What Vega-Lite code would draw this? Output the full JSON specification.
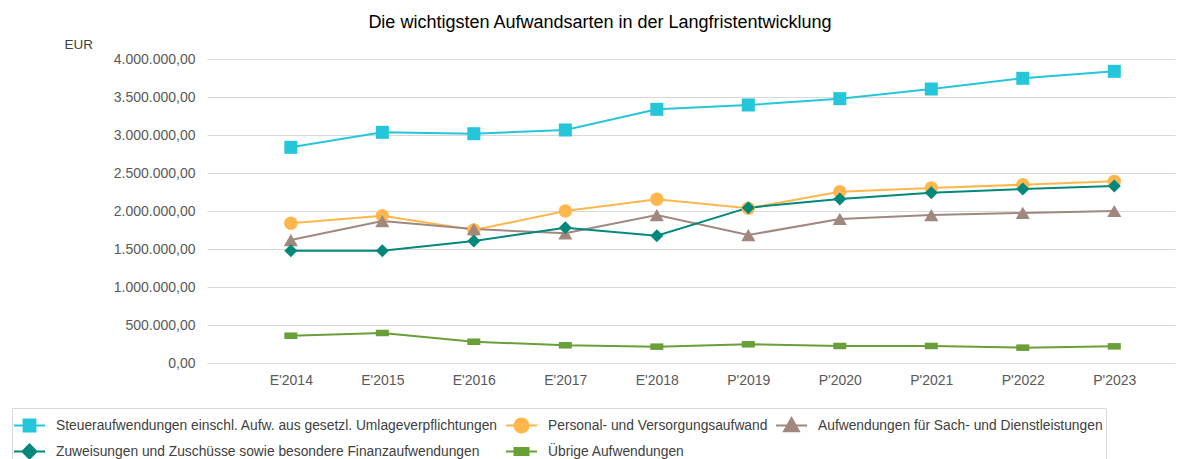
{
  "$schema": "https://vega.github.io/schema/vega-lite/v6.json",
  "width": 968,
  "height": 304,
  "autosize": "none",
  "padding": {"left": 207, "top": 59, "right": 25, "bottom": 96},
  "title": {
    "text": "Die wichtigsten Aufwandsarten in der Langfristentwicklung",
    "fontSize": 18,
    "font": "Liberation Sans",
    "fontWeight": "normal",
    "color": "#000000",
    "anchor": "middle",
    "dx": -91,
    "offset": 5
  },
  "config": {
    "locale": {"number": {"decimal": ",", "thousands": ".", "grouping": [3], "currency": ["", " €"]}},
    "view": {"stroke": null},
    "font": "Liberation Sans",
    "axis": {"labelFont": "Liberation Sans", "titleFont": "Liberation Sans"},
    "legend": {"labelFont": "Liberation Sans"}
  },
  "data": {
    "values": [
      {"j": "E'2014", "s": "Steueraufwendungen einschl. Aufw. aus gesetzl. Umlageverpflichtungen", "v": 2838000},
      {"j": "E'2015", "s": "Steueraufwendungen einschl. Aufw. aus gesetzl. Umlageverpflichtungen", "v": 3035000},
      {"j": "E'2016", "s": "Steueraufwendungen einschl. Aufw. aus gesetzl. Umlageverpflichtungen", "v": 3017000},
      {"j": "E'2017", "s": "Steueraufwendungen einschl. Aufw. aus gesetzl. Umlageverpflichtungen", "v": 3066000},
      {"j": "E'2018", "s": "Steueraufwendungen einschl. Aufw. aus gesetzl. Umlageverpflichtungen", "v": 3338000},
      {"j": "P'2019", "s": "Steueraufwendungen einschl. Aufw. aus gesetzl. Umlageverpflichtungen", "v": 3395000},
      {"j": "P'2020", "s": "Steueraufwendungen einschl. Aufw. aus gesetzl. Umlageverpflichtungen", "v": 3478000},
      {"j": "P'2021", "s": "Steueraufwendungen einschl. Aufw. aus gesetzl. Umlageverpflichtungen", "v": 3605000},
      {"j": "P'2022", "s": "Steueraufwendungen einschl. Aufw. aus gesetzl. Umlageverpflichtungen", "v": 3746000},
      {"j": "P'2023", "s": "Steueraufwendungen einschl. Aufw. aus gesetzl. Umlageverpflichtungen", "v": 3838000},
      {"j": "E'2014", "s": "Personal- und Versorgungsaufwand", "v": 1838000},
      {"j": "E'2015", "s": "Personal- und Versorgungsaufwand", "v": 1938000},
      {"j": "E'2016", "s": "Personal- und Versorgungsaufwand", "v": 1750000},
      {"j": "E'2017", "s": "Personal- und Versorgungsaufwand", "v": 2000000},
      {"j": "E'2018", "s": "Personal- und Versorgungsaufwand", "v": 2154000},
      {"j": "P'2019", "s": "Personal- und Versorgungsaufwand", "v": 2035000},
      {"j": "P'2020", "s": "Personal- und Versorgungsaufwand", "v": 2254000},
      {"j": "P'2021", "s": "Personal- und Versorgungsaufwand", "v": 2303000},
      {"j": "P'2022", "s": "Personal- und Versorgungsaufwand", "v": 2346000},
      {"j": "P'2023", "s": "Personal- und Versorgungsaufwand", "v": 2390000},
      {"j": "E'2014", "s": "Aufwendungen für Sach- und Dienstleistungen", "v": 1618000},
      {"j": "E'2015", "s": "Aufwendungen für Sach- und Dienstleistungen", "v": 1868000},
      {"j": "E'2016", "s": "Aufwendungen für Sach- und Dienstleistungen", "v": 1763000},
      {"j": "E'2017", "s": "Aufwendungen für Sach- und Dienstleistungen", "v": 1706000},
      {"j": "E'2018", "s": "Aufwendungen für Sach- und Dienstleistungen", "v": 1947000},
      {"j": "P'2019", "s": "Aufwendungen für Sach- und Dienstleistungen", "v": 1684000},
      {"j": "P'2020", "s": "Aufwendungen für Sach- und Dienstleistungen", "v": 1895000},
      {"j": "P'2021", "s": "Aufwendungen für Sach- und Dienstleistungen", "v": 1947000},
      {"j": "P'2022", "s": "Aufwendungen für Sach- und Dienstleistungen", "v": 1974000},
      {"j": "P'2023", "s": "Aufwendungen für Sach- und Dienstleistungen", "v": 2000000},
      {"j": "E'2014", "s": "Zuweisungen und Zuschüsse sowie besondere Finanzaufwendungen", "v": 1478000},
      {"j": "E'2015", "s": "Zuweisungen und Zuschüsse sowie besondere Finanzaufwendungen", "v": 1478000},
      {"j": "E'2016", "s": "Zuweisungen und Zuschüsse sowie besondere Finanzaufwendungen", "v": 1605000},
      {"j": "E'2017", "s": "Zuweisungen und Zuschüsse sowie besondere Finanzaufwendungen", "v": 1780000},
      {"j": "E'2018", "s": "Zuweisungen und Zuschüsse sowie besondere Finanzaufwendungen", "v": 1675000},
      {"j": "P'2019", "s": "Zuweisungen und Zuschüsse sowie besondere Finanzaufwendungen", "v": 2044000},
      {"j": "P'2020", "s": "Zuweisungen und Zuschüsse sowie besondere Finanzaufwendungen", "v": 2158000},
      {"j": "P'2021", "s": "Zuweisungen und Zuschüsse sowie besondere Finanzaufwendungen", "v": 2241000},
      {"j": "P'2022", "s": "Zuweisungen und Zuschüsse sowie besondere Finanzaufwendungen", "v": 2290000},
      {"j": "P'2023", "s": "Zuweisungen und Zuschüsse sowie besondere Finanzaufwendungen", "v": 2329000},
      {"j": "E'2014", "s": "Übrige Aufwendungen", "v": 359000},
      {"j": "E'2015", "s": "Übrige Aufwendungen", "v": 395000},
      {"j": "E'2016", "s": "Übrige Aufwendungen", "v": 280000},
      {"j": "E'2017", "s": "Übrige Aufwendungen", "v": 233000},
      {"j": "E'2018", "s": "Übrige Aufwendungen", "v": 215000},
      {"j": "P'2019", "s": "Übrige Aufwendungen", "v": 246000},
      {"j": "P'2020", "s": "Übrige Aufwendungen", "v": 224000},
      {"j": "P'2021", "s": "Übrige Aufwendungen", "v": 224000},
      {"j": "P'2022", "s": "Übrige Aufwendungen", "v": 202000},
      {"j": "P'2023", "s": "Übrige Aufwendungen", "v": 219000}
    ]
  },
  "encoding": {
    "x": {
      "field": "j",
      "type": "ordinal",
      "sort": null,
      "scale": {"type": "point", "padding": 0.79, "align": 0.58},
      "axis": {
        "title": null,
        "labelAngle": 0,
        "domain": false,
        "ticks": false,
        "grid": false,
        "labelPadding": 10,
        "labelFontSize": 14,
        "labelColor": "#595959"
      }
    },
    "y": {
      "field": "v",
      "type": "quantitative",
      "scale": {"domain": [0, 4000000], "nice": false},
      "axis": {
        "values": [0, 500000, 1000000, 1500000, 2000000, 2500000, 3000000, 3500000, 4000000],
        "format": ",.2f",
        "title": "EUR",
        "titleAngle": 0,
        "titleAlign": "left",
        "titleBaseline": "middle",
        "titleX": -143,
        "titleY": -15,
        "titleFontSize": 13.5,
        "titleFontWeight": "normal",
        "titleColor": "#404040",
        "domain": false,
        "ticks": false,
        "labelPadding": 12,
        "labelFontSize": 14,
        "labelColor": "#595959",
        "gridColor": "#d9d9d9",
        "gridWidth": 1
      }
    }
  },
  "layer": [
    {
      "mark": {"type": "line", "strokeWidth": 2},
      "encoding": {
        "color": {
          "field": "s",
          "type": "nominal",
          "scale": {
            "domain": [
              "Steueraufwendungen einschl. Aufw. aus gesetzl. Umlageverpflichtungen",
              "Personal- und Versorgungsaufwand",
              "Aufwendungen für Sach- und Dienstleistungen",
              "Zuweisungen und Zuschüsse sowie besondere Finanzaufwendungen",
              "Übrige Aufwendungen"
            ],
            "range": ["#26C6DA", "#FFB74D", "#A1887F", "#00897B", "#689F38"]
          },
          "legend": {
            "title": null,
            "orient": "none",
            "legendX": -195,
            "legendY": 349,
            "direction": "horizontal",
            "columns": 3,
            "gridAlign": "none",
            "strokeColor": "#d9d9d9",
            "padding": 3,
            "rowPadding": 0,
            "columnPadding": 3,
            "symbolSize": 729,
            "symbolStrokeWidth": 2,
            "labelOffset": 12,
            "labelFontSize": 13.8,
            "labelColor": "#404040",
            "labelLimit": 0,
            "encode": {
              "symbols": {
                "update": {
                  "shape": {"signal": "['M-1.15,0H1.15M-0.44,-0.44H0.44V0.44H-0.44Z','M-1.15,0H1.15M0.52,0A0.52,0.52,0,1,1,-0.52,0A0.52,0.52,0,1,1,0.52,0Z','M-1.15,0H1.15M0,-0.55L0.55,0.42H-0.55Z','M-1.15,0H1.15M0,-0.52L0.52,0L0,0.52L-0.52,0Z','M-1.15,0H1.15M-0.52,-0.26H0.52V0.26H-0.52Z'][indexof(domain('color'), datum.value)]"},
                  "fill": {"signal": "scale('color', datum.value)"}
                }
              }
            }
          }
        }
      }
    },
    {
      "transform": [{"filter": {"field": "s", "equal": "Steueraufwendungen einschl. Aufw. aus gesetzl. Umlageverpflichtungen"}}],
      "mark": {"type": "point", "filled": true, "opacity": 1, "size": 170, "shape": "square", "color": "#26C6DA"}
    },
    {
      "transform": [{"filter": {"field": "s", "equal": "Personal- und Versorgungsaufwand"}}],
      "mark": {"type": "point", "filled": true, "opacity": 1, "size": 180, "shape": "circle", "color": "#FFB74D"}
    },
    {
      "transform": [{"filter": {"field": "s", "equal": "Aufwendungen für Sach- und Dienstleistungen"}}],
      "mark": {"type": "point", "filled": true, "opacity": 1, "size": 200, "shape": "triangle-up", "color": "#A1887F"}
    },
    {
      "transform": [{"filter": {"field": "s", "equal": "Zuweisungen und Zuschüsse sowie besondere Finanzaufwendungen"}}],
      "mark": {"type": "point", "filled": true, "opacity": 1, "size": 170, "shape": "diamond", "color": "#00897B"}
    },
    {
      "transform": [{"filter": {"field": "s", "equal": "Übrige Aufwendungen"}}],
      "mark": {"type": "point", "filled": true, "opacity": 1, "size": 170, "shape": "M-1,-0.5H1V0.5H-1Z", "color": "#689F38"}
    }
  ]
}
